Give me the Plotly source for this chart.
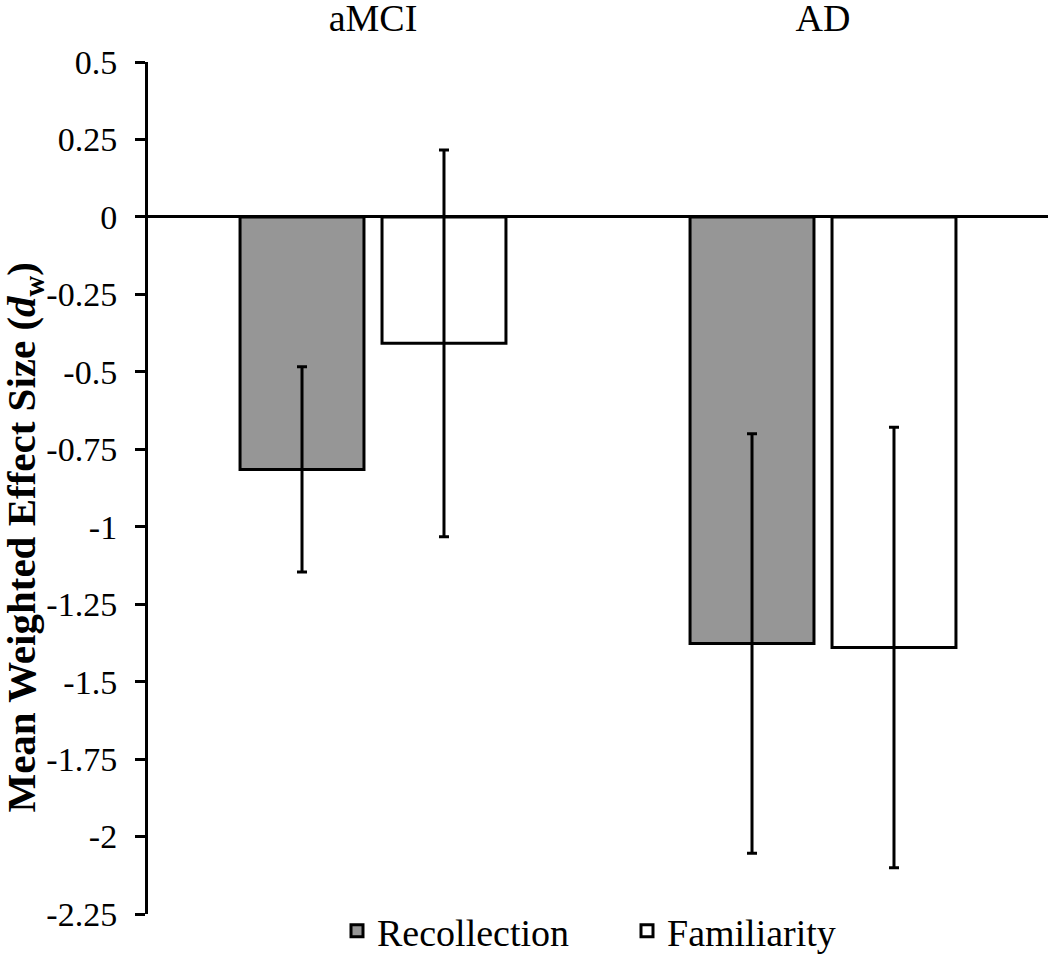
import plotly.graph_objects as go

categories = ["aMCI", "AD"]
recollection = [-0.815, -1.377]
recollection_err = [0.331, 0.677]
familiarity = [-0.408, -1.39]
familiarity_err = [0.624, 0.711]

tick_vals = [0.5, 0.25, 0, -0.25, -0.5, -0.75, -1, -1.25, -1.5, -1.75, -2, -2.25]
tick_text = ["0.5", "0.25", "0", "-0.25", "-0.5", "-0.75", "-1", "-1.25", "-1.5", "-1.75", "-2", "-2.25"]

FONT = "Liberation Serif, Times New Roman, serif"

fig = go.Figure()
fig.add_trace(go.Bar(
    name="Recollection", x=categories, y=recollection,
    marker=dict(color="#969696", line=dict(color="black", width=3)),
    error_y=dict(type="data", array=recollection_err, color="black", thickness=3, width=5),
))
fig.add_trace(go.Bar(
    name="Familiarity", x=categories, y=familiarity,
    marker=dict(color="white", line=dict(color="black", width=3)),
    error_y=dict(type="data", array=familiarity_err, color="black", thickness=3, width=5),
))

fig.update_layout(
    width=1050, height=954,
    margin=dict(l=148, r=2, t=62, b=40, autoexpand=False),
    paper_bgcolor="white", plot_bgcolor="white",
    font=dict(family=FONT, color="black"),
    bargap=0.369, bargroupgap=0.127,
    showlegend=True,
    legend=dict(
        orientation="h", x=0.21, xanchor="left", y=-0.02, yanchor="middle",
        font=dict(size=38, family=FONT, color="black"),
        bgcolor="rgba(0,0,0,0)", traceorder="normal",
        entrywidth=245, entrywidthmode="pixels",
    ),
)
fig.update_xaxes(
    side="top", showline=False, ticks="", showgrid=False,
    tickfont=dict(size=38, family=FONT, color="black"),
    ticklabelstandoff=22,
)
fig.update_yaxes(
    range=[-2.25, 0.5], tickvals=tick_vals, ticktext=tick_text,
    showgrid=False, showline=True, linecolor="black", linewidth=3,
    ticks="outside", ticklen=10, tickwidth=3, tickcolor="black",
    zeroline=True, zerolinecolor="black", zerolinewidth=3,
    tickfont=dict(size=34, family=FONT, color="black"),
    ticklabelstandoff=11,
)
fig.add_annotation(
    text="<b>Mean Weighted Effect Size (<i>d</i><sub>w</sub>)</b>",
    textangle=-90, xref="paper", yref="y", x=0, y=-1.035,
    xanchor="center", yanchor="middle", xshift=-124, showarrow=False,
    font=dict(size=41, family=FONT, color="black"),
)

fig.write_html(
    "out.html",
    config={"displayModeBar": False},
    post_script="document.body.style.margin='0';",
)
